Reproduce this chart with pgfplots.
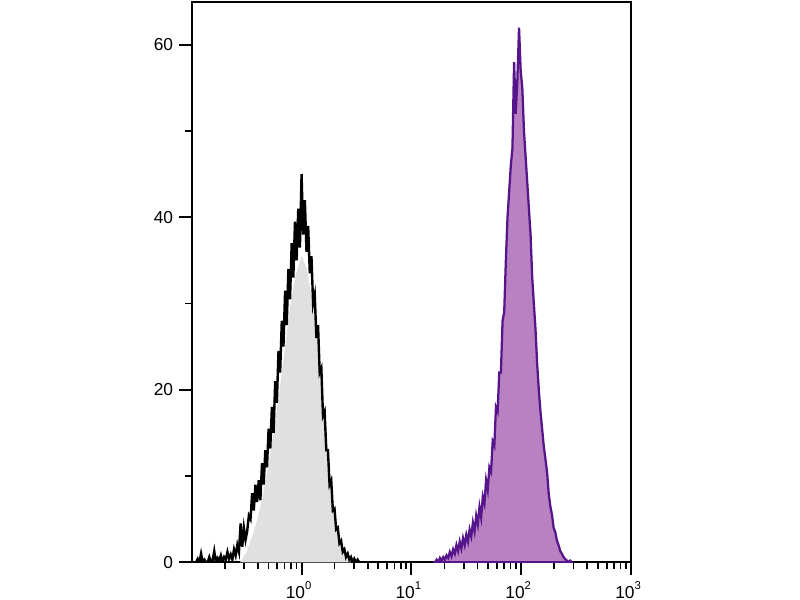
\documentclass[border=0pt]{standalone}
\usepackage{pgfplots}
\pgfplotsset{compat=1.18}
\usepackage{fontspec}
\setmainfont{Liberation Sans}
\definecolor{grayfill}{RGB}{224,224,224}
\definecolor{pfill}{RGB}{184,130,194}
\definecolor{pline}{RGB}{84,22,138}
\newcommand{\dec}[1]{10\raisebox{6.4pt}{\fontsize{8.5}{8.5}\selectfont #1}}
\begin{document}
\begin{tikzpicture}[x=1pt,y=1pt]
\useasboundingbox (0,0) rectangle (600,450);
\begin{axis}[
  at={(143.8pt,28.3pt)}, anchor=south west,
  scale only axis, width=329.5pt, height=420.4pt,
  xmin=-1, xmax=3, ymin=0, ymax=65,
  axis line style={line width=1.5pt},
  every tick/.style={black, line width=1.5pt},
  every minor tick/.append style={line width=1.3pt},
  tick align=outside, xtick pos=bottom, ytick pos=left,
  major tick length=9.5pt, minor tick length=5pt,
  xtick={0,1,2,3}, xticklabels={\dec{0},\dec{1},\dec{2},\dec{3}},
  minor xtick={-0.699,-0.523,-0.398,-0.301,-0.222,-0.155,-0.097,-0.046,
    0.301,0.477,0.602,0.699,0.778,0.845,0.903,0.954,
    1.301,1.477,1.602,1.699,1.778,1.845,1.903,1.954,
    2.301,2.477,2.602,2.699,2.778,2.845,2.903,2.954},
  ytick={0,20,40,60}, minor ytick={10,30,50},
  yticklabels={0,20,40,60},
  yticklabel style={font=\fontsize{13}{13}\selectfont, inner sep=0pt, xshift=-4.3pt},
  xticklabel style={font=\fontsize{13}{13}\selectfont, inner sep=0pt, xshift=-2.25pt, yshift=-5pt},
]
% gray control: smoothed fill
\addplot[draw=none, fill=grayfill] coordinates {
(-0.56,0) (-0.50,1.2) (-0.45,3) (-0.40,5) (-0.35,8) (-0.30,11.5) (-0.25,15.5)
(-0.20,20) (-0.15,25) (-0.10,30) (-0.05,33.5) (0.00,35.5) (0.05,34)
(0.10,30) (0.15,25.5) (0.20,18.5) (0.25,11.5) (0.30,5.5) (0.35,2.2)
(0.40,0.5) (0.45,0)
} \closedcycle;
% gray control: raw histogram line
\addplot[black, line width=1.8pt] coordinates {
(-1.000,0) (-0.960,0) (-0.945,0.4) (-0.930,0) (-0.915,1.0) (-0.900,0) (-0.885,0.3)
(-0.870,0) (-0.855,0) (-0.840,0.6) (-0.825,0) (-0.810,0.2) (-0.795,1.3)
(-0.780,0) (-0.765,0.5) (-0.750,0.2) (-0.735,0.8) (-0.720,0) (-0.705,0.6)
(-0.690,0.3) (-0.675,1.2) (-0.660,0.4) (-0.645,0.9) (-0.630,0.3) (-0.615,1.5)
(-0.600,0.8) (-0.585,2.0) (-0.570,1.2) (-0.555,4.5) (-0.540,1.8) (-0.525,4.0)
(-0.510,2.6) (-0.495,3.6) (-0.480,5.4) (-0.465,5.0) (-0.450,8.0) (-0.435,6.0)
(-0.420,9.0) (-0.405,7.0) (-0.390,9.5) (-0.375,7.2) (-0.360,11.5) (-0.345,9.0)
(-0.330,13.0) (-0.315,11.0) (-0.300,15.5) (-0.285,13.2) (-0.270,18.0)
(-0.255,15.0) (-0.240,21.0) (-0.225,18.5) (-0.210,24.5) (-0.195,22.0)
(-0.180,28.0) (-0.165,25.0) (-0.150,31.5) (-0.135,27.5) (-0.120,34.0)
(-0.105,30.5) (-0.090,37.0) (-0.075,33.0) (-0.060,39.5) (-0.045,35.0)
(-0.030,41.0) (-0.015,36.5) (0.000,45.0) (0.015,38.0) (0.030,42.0)
(0.045,36.0) (0.060,39.0) (0.075,33.5) (0.090,35.5) (0.105,30.0)
(0.120,31.0) (0.135,26.0) (0.150,27.5) (0.165,22.0) (0.180,22.5)
(0.195,17.0) (0.210,17.5) (0.225,13.0) (0.240,13.0) (0.255,9.0)
(0.270,9.5) (0.285,6.0) (0.300,6.2) (0.315,3.8) (0.330,4.0) (0.345,2.2)
(0.360,2.5) (0.375,1.2) (0.390,1.5) (0.405,0.6) (0.420,1.0) (0.435,0.3)
(0.450,0.6) (0.465,0) (0.480,0.4) (0.495,0) (0.510,0.3) (0.525,0) (0.540,0)
};
% purple stained sample
\addplot[draw=pline, line width=1.7pt, fill=pfill] coordinates {
(1.200,0) (1.215,0) (1.230,0.3) (1.245,0) (1.260,0.5) (1.275,0.2) (1.290,0.6)
(1.305,0.3) (1.320,0.8) (1.335,0.5) (1.350,1.2) (1.365,0.7) (1.380,1.5)
(1.395,1.0) (1.410,2.0) (1.425,1.3) (1.440,2.4) (1.455,1.6) (1.470,2.8)
(1.485,2.0) (1.500,3.2) (1.515,2.4) (1.530,3.8) (1.545,3.0) (1.560,4.6)
(1.575,3.6) (1.590,5.4) (1.605,4.4) (1.620,6.4) (1.635,5.2) (1.650,7.6)
(1.665,6.8) (1.680,9.5) (1.695,8.4) (1.710,11.0) (1.725,10.5) (1.740,14.0)
(1.755,13.5) (1.770,18.0) (1.785,17.5) (1.800,22.0) (1.815,22.0) (1.830,28.0)
(1.845,29.0) (1.860,35.0) (1.875,40.0) (1.890,43.0) (1.905,46.0) (1.920,48.0)
(1.935,58.0) (1.950,52.0) (1.965,56.0) (1.980,62.0) (1.995,57.0) (2.010,55.0)
(2.025,50.0) (2.040,47.0) (2.055,44.0) (2.070,41.0) (2.085,38.0) (2.100,33.0)
(2.115,30.0) (2.130,27.0) (2.145,23.0) (2.160,20.0) (2.175,17.5) (2.190,15.5)
(2.205,13.5) (2.220,12.0) (2.235,10.5) (2.250,8.0) (2.265,6.5) (2.280,5.5)
(2.295,4.0) (2.310,3.5) (2.325,2.5) (2.340,2.0) (2.355,1.3) (2.370,1.0)
(2.385,0.6) (2.400,0.4) (2.415,0.2) (2.430,0) (2.445,0.2) (2.460,0)
} \closedcycle;
\end{axis}
\end{tikzpicture}
\end{document}
